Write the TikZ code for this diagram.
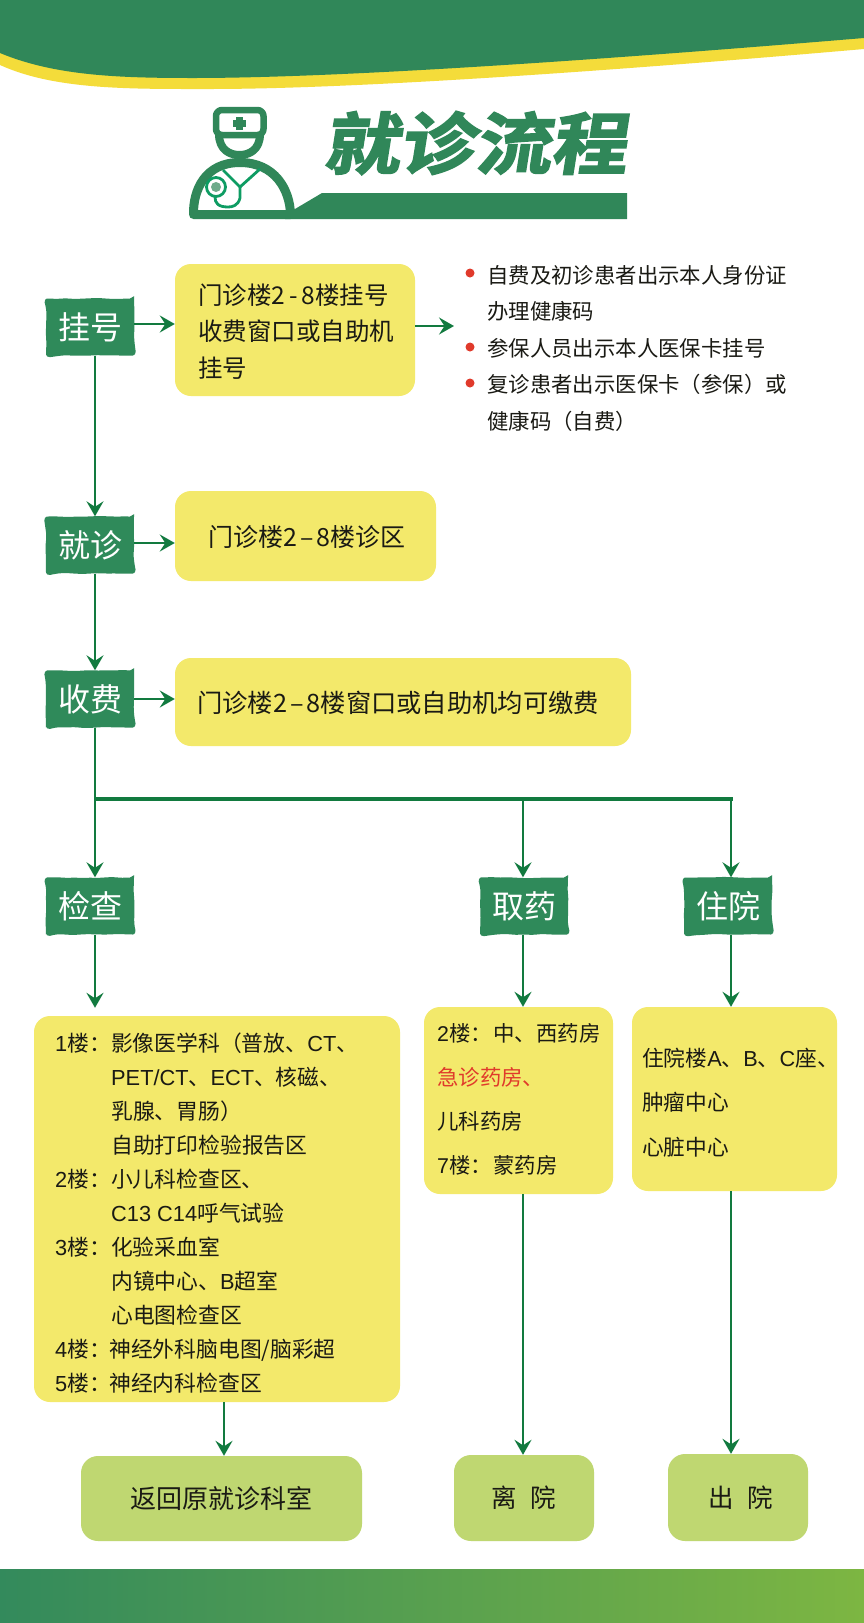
\documentclass[tikz,border=0pt]{standalone}
\usepackage{graphicx}
\usepackage{fontspec}
\setmainfont{Noto Sans CJK SC}
\newfontfamily\la{Liberation Sans}
\newfontfamily\titlefont[FakeSlant=0.14,FakeBold=2.5]{Noto Sans CJK SC Bold}
\usetikzlibrary{arrows.meta,decorations.pathmorphing,calc}
\definecolor{bandgreen}{HTML}{308759}
\definecolor{bandyellow}{HTML}{F4DC3A}
\definecolor{boxyellow}{HTML}{F3E96B}
\definecolor{tagreen}{HTML}{2F8A5A}
\definecolor{arrowgreen}{HTML}{127A3F}
\definecolor{lightgreen}{HTML}{BFD771}
\definecolor{dotred}{HTML}{E03A2B}
\definecolor{inkblack}{HTML}{1A1A14}
\definecolor{stethgreen}{HTML}{0E9C63}
\definecolor{footL}{HTML}{338A5C}
\definecolor{footR}{HTML}{7DB642}
\tikzset{
  tagbox/.style={fill=tagreen,text=white,minimum width=88pt,minimum height=57pt,inner sep=0pt,
    rounded corners=4pt,decorate,decoration={random steps,segment length=8pt,amplitude=0.6pt},
    font=\fontsize{32}{36}\selectfont},
  ybox/.style={fill=boxyellow,rounded corners=16pt,inner sep=0pt},
  gbox/.style={fill=lightgreen,rounded corners=17pt,inner sep=0pt,text=inkblack,font=\fontsize{25.5}{30}\selectfont},
  blocktext/.style={anchor=west,inner sep=0pt,align=left,text=inkblack},
  arr/.style={draw=arrowgreen,line width=2.1pt,-{Stealth[length=15pt,width=17pt,inset=5.5pt]}},
  dot/.style={circle,fill=dotred,minimum size=9pt,inner sep=0pt},
  doc/.style={draw=bandgreen,line width=9pt,line join=round},
  steth/.style={draw=stethgreen,line width=2.8pt,line join=round}
}
\newcommand{\zf}[1]{\makebox[56pt][l]{#1}}
\newcommand{\zg}[1]{\makebox[54pt][l]{#1}}
\begin{document}
\begin{tikzpicture}[x=1pt,y=-1pt]
\pgfmathsetseed{12}
\useasboundingbox (0,0) rectangle (864,1623);
\fill[white] (0,0) rectangle (864,1623);
% top band
\fill[bandyellow] (0,0) -- (0,65) .. controls (55,90) and (130,89) .. (210,89)
  .. controls (350,89) and (600,72) .. (864,49) -- (864,0) -- cycle;
\fill[bandgreen] (0,0) -- (0,53) .. controls (55,76) and (120,78) .. (193,78)
  .. controls (340,78) and (600,60) .. (864,38) -- (864,0) -- cycle;
% title
\node[inner sep=0pt,text=bandgreen,font=\fontsize{67}{72}\titlefont] (title) at (475,143) {\scalebox{1.13}[1]{就诊流程}};
\fill[bandgreen] (285,219) -- (290,211) -- (295,209) -- (322,193) -- (627,193) -- (627,219) -- cycle;
% doctor icon
\draw[doc,fill=white] (193.5,214.5) .. controls (193,190) and (205,162.5) .. (240,162.5)
  .. controls (275,162.5) and (290,190) .. (290.5,214.5) -- cycle;
\draw[doc,line width=8pt,fill=white] (219,134) .. controls (219,150) and (230,155) .. (239.5,155)
  .. controls (249,155) and (260,150) .. (260,134);
\draw[doc,line width=6.5pt,fill=white,rounded corners=6pt] (216,135) -- (216,110) -- (263.5,110) -- (263.5,135) -- cycle;
\fill[bandgreen] (236,117) rectangle (243,130);
\fill[bandgreen] (233,120) rectangle (246,127);
\draw[steth] (223,170) -- (240,187) -- (260,169);
\draw[steth] (240,187) -- (240,198) .. controls (238,206) and (232,207) .. (228,207)
  .. controls (218,207) and (215,203) .. (215,197);
\draw[steth,fill=white] (216,187) circle (9.5pt);
\fill[bandgreen!70!white] (216,187) circle (5pt);
% coordinates for connector lines
\coordinate (c1) at (95,0);
\coordinate (c2) at (523,0);
\coordinate (c3) at (731,0);
\coordinate (c4) at (224,0);
\coordinate (r1) at (0,324);
\coordinate (r1b) at (0,326);
\coordinate (r2) at (0,543);
\coordinate (r3) at (0,699);
\coordinate (busL) at (95,799);
\coordinate (busR) at (733,799);
\coordinate (rtend) at (454,326);
% tags
\node[tagbox] (guahao) at (90,327) {挂号};
\node[tagbox] (jiuzhen) at (90,545) {就诊};
\node[tagbox] (shoufei) at (90,699) {\raisebox{-2.5pt}{收费}};
\node[tagbox] (jiancha) at (90,906) {检查};
\node[tagbox] (quyao) at (524,906) {取药};
\node[tagbox] (zhuyuan) at (728,906) {住院};
% yellow boxes
\node[ybox,minimum width=240pt,minimum height=132pt] (b1) at (295,330) {};
\node[ybox,minimum width=261pt,minimum height=90pt] (b2) at (305.5,536) {};
\node[ybox,minimum width=456pt,minimum height=88pt] (b3) at (403,702) {};
\node[ybox,minimum width=366pt,minimum height=386pt] (b4) at (217,1209) {};
\node[ybox,minimum width=189pt,minimum height=187pt] (b5) at (518.5,1100.5) {};
\node[ybox,minimum width=205pt,minimum height=184pt] (b6) at (734.5,1099) {};
% exits
\node[gbox,minimum width=281pt,minimum height=85pt,font=\fontsize{26}{30}\selectfont] (back) at (221.5,1498.5) {返回原就诊科室\hspace{7pt}};
\node[gbox,minimum width=140pt,minimum height=86pt] (leave) at (524,1498) {离 \hspace{8pt}院};
\node[gbox,minimum width=140pt,minimum height=87pt] (out) at (738,1497.5) {\hspace{6pt}出 \hspace{8pt}院};
% texts
\node[blocktext,font=\fontsize{24.5}{36.5}\selectfont] (t1) at (198,331.5) {门诊楼2\kern4pt-\kern4pt8楼挂号\\收费窗口或自助机\\挂号};
\node[blocktext,font=\fontsize{25}{30}\selectfont] (t2) at (208,537) {门诊楼2\kern3pt–\kern3pt8楼诊区};
\node[blocktext,font=\fontsize{25.3}{30}\selectfont] (t3) at (197,703) {门诊楼2\kern3pt–\kern3pt8楼窗口或自助机均可缴费};
\node[blocktext,font=\fontsize{21.4}{36.5}\selectfont] (t4a) at (487,293.5) {自费及初诊患者出示本人身份证\\办理健康码};
\node[blocktext,font=\fontsize{21.4}{30}\selectfont] (t4b) at (487,348) {参保人员出示本人医保卡挂号};
\node[blocktext,font=\fontsize{21.4}{37}\selectfont] (t4c) at (487,402.5) {复诊患者出示医保卡（参保）或\\健康码（自费）};
\node[dot] (d1) at (470,273) {};
\node[dot] (d2) at (470,347) {};
\node[dot] (d3) at (470,383) {};
\node[blocktext,font=\fontsize{21.8}{34}\selectfont] (t5) at (55,1213) {%
  \zf{{\la 1}楼：}影像医学科（普放、{\la CT}、\\
  \zf{}{\la PET/CT}、{\la ECT}、核磁、\\
  \zf{}乳腺、胃肠）\\
  \zf{}自助打印检验报告区\\
  \zf{{\la 2}楼：}小儿科检查区、\\
  \zf{}{\la C13 C14}呼气试验\\
  \zf{{\la 3}楼：}化验采血室\\
  \zf{}内镜中心、{\la B}超室\\
  \zf{}心电图检查区\\
  \zg{{\la 4}楼：}神经外科脑电图/脑彩超\\
  \zg{{\la 5}楼：}神经内科检查区};
\node[blocktext,font=\fontsize{21.4}{44}\selectfont] (t6) at (437,1099) {%
  {\la 2}楼：\hspace{1.5pt}中、西药房\\
  \textcolor{dotred}{急诊药房、}\\
  儿科药房\\
  {\la 7}楼：\hspace{1.5pt}蒙药房};
\node[blocktext,font=\fontsize{21.7}{44.5}\selectfont] (t7) at (642,1102.5) {%
  住院楼{\la A}、{\la B}、{\la C}座、\\
  肿瘤中心\\
  心脏中心};
% connectors
\draw[arr] (guahao.east |- r1) -- (b1.west |- r1);
\draw[arr] (b1.east |- r1b) -- (rtend);
\draw[arr] (jiuzhen.east |- r2) -- (b2.west |- r2);
\draw[arr] (shoufei.east |- r3) -- (b3.west |- r3);
\draw[arr] (guahao.south -| c1) -- (jiuzhen.north -| c1);
\draw[arr] (jiuzhen.south -| c1) -- (shoufei.north -| c1);
\draw[arr] (shoufei.south -| c1) -- (jiancha.north -| c1);
\draw[draw=arrowgreen,line width=3.2pt] (busL) -- (busR);
\draw[arr] (c2 |- busL) -- (quyao.north -| c2);
\draw[arr] (c3 |- busL) -- (zhuyuan.north -| c3);
\draw[arr] (jiancha.south -| c1) -- ($(b4.north -| c1)+(0,-8)$);
\draw[arr] (quyao.south -| c2) -- (b5.north -| c2);
\draw[arr] (zhuyuan.south -| c3) -- (b6.north -| c3);
\draw[arr] (b4.south -| c4) -- (back.north -| c4);
\draw[arr] (b5.south -| c2) -- (leave.north -| c2);
\draw[arr] (b6.south -| c3) -- (out.north -| c3);
% footer
\shade[left color=footL,right color=footR] (0,1569) rectangle (864,1622);
\end{tikzpicture}
\end{document}
